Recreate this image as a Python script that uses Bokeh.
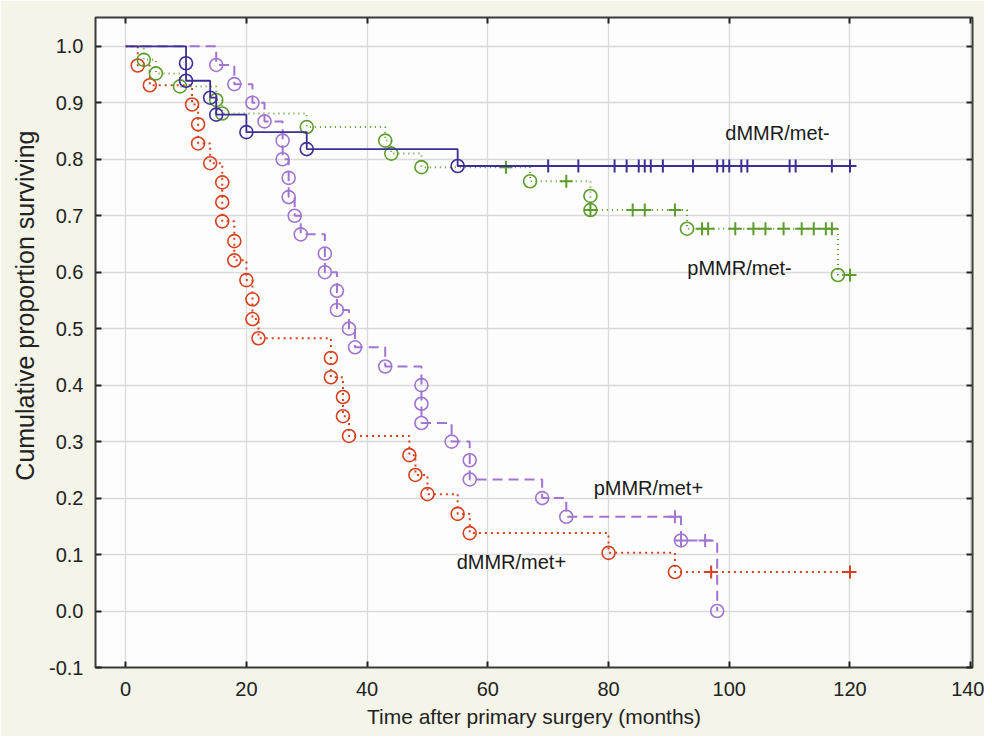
from bokeh.plotting import figure
from bokeh.models import Range1d, FixedTicker, LinearAxis, NumeralTickFormatter, CustomJSTickFormatter, Label, Title
from bokeh.embed import file_html
from bokeh.resources import INLINE

# ---------------- data ----------------
x_ticks = [0, 20, 40, 60, 80, 100, 120, 140]
y_ticks = [-0.1, 0.0, 0.1, 0.2, 0.3, 0.4, 0.5, 0.6, 0.7, 0.8, 0.9, 1.0]

# dMMR/met-
dneg_event_t = [10, 10, 14, 15, 20, 30, 55]
dneg_event_s = [0.970, 0.939, 0.909, 0.879, 0.848, 0.818, 0.788]
dneg_cens_t = [70, 75, 81, 83, 85, 86, 87, 89, 94, 98, 99, 100, 102, 103, 110, 111, 117, 120]
dneg_cens_s = [0.788] * 18

# pMMR/met-
pneg_event_t = [3, 5, 9, 15, 16, 30, 43, 44, 49, 67, 77, 77, 93, 118]
pneg_event_s = [0.976, 0.952, 0.929, 0.905, 0.881, 0.857, 0.833, 0.810, 0.786, 0.761, 0.735, 0.710, 0.677, 0.595]
pneg_cens_t = [63, 73, 77, 84, 86, 91, 95.5, 96.5, 101, 104, 106, 109, 112, 114, 116, 117, 120]
pneg_cens_s = [0.786, 0.761, 0.710, 0.710, 0.710, 0.710, 0.677, 0.677, 0.677, 0.677, 0.677,
               0.677, 0.677, 0.677, 0.677, 0.677, 0.595]

# pMMR/met+
ppos_event_t = [15, 18, 21, 23, 26, 26, 27, 27, 28, 29, 33, 33, 35, 35, 37, 38, 43, 49, 49, 49,
                54, 57, 57, 69, 73, 92, 98]
ppos_event_s = [0.967, 0.933, 0.900, 0.867, 0.833, 0.800, 0.767, 0.733, 0.700, 0.667, 0.633, 0.600,
                0.567, 0.533, 0.500, 0.467, 0.433, 0.400, 0.367, 0.333, 0.300, 0.267, 0.233, 0.200,
                0.167, 0.125, 0.0]
ppos_cens_t = [91, 92, 96]
ppos_cens_s = [0.167, 0.125, 0.125]

# dMMR/met+
dpos_event_t = [2, 4, 11, 12, 12, 14, 16, 16, 16, 18, 18, 20, 21, 21, 22, 34, 34, 36, 36, 37,
                47, 48, 50, 55, 57, 80, 91]
dpos_event_s = [0.966, 0.931, 0.897, 0.862, 0.828, 0.793, 0.759, 0.724, 0.690, 0.655, 0.621,
                0.586, 0.552, 0.517, 0.483, 0.448, 0.414, 0.379, 0.345, 0.310, 0.276, 0.241,
                0.207, 0.172, 0.138, 0.103, 0.069]
dpos_cens_t = [97, 120]
dpos_cens_s = [0.069, 0.069]

series_names = ["dMMR/met-", "pMMR/met-", "pMMR/met+", "dMMR/met+"]
label_x = [108, 101.7, 86.6, 63.9]
label_y = [0.846, 0.607, 0.218, 0.087]

y_title = "Cumulative proportion surviving"
x_title = "Time after primary surgery (months)"

# ---------------- figure ----------------
FONT = "Liberation Sans"
BG = "#f4f4e8"

p = figure(width=984, height=736, output_backend="svg", toolbar_location=None,
           x_range=Range1d(-5, 140.3), y_range=Range1d(-0.1, 1.051),
           min_border_left=95, min_border_right=12, min_border_top=17, min_border_bottom=69,
           x_axis_label=x_title)
p.background_fill_color = "#fdfdfd"
p.border_fill_color = BG
p.outline_line_color = "#3a3a3a"
p.outline_line_width = 2

for ax in (p.xaxis[0], p.yaxis[0]):
    ax.axis_line_color = None
    ax.major_tick_in = 6
    ax.major_tick_out = 0
    ax.minor_tick_line_color = None
    ax.major_tick_line_color = "#222222"
    ax.major_tick_line_width = 2
    ax.major_label_text_font = FONT
    ax.major_label_text_font_size = "20px"
    ax.major_label_text_color = "#222222"
    ax.axis_label_text_font = FONT
    ax.axis_label_text_font_style = "normal"
    ax.axis_label_text_color = "#222222"

p.xaxis[0].axis_label_text_font_size = "21px"
p.xaxis[0].ticker = FixedTicker(ticks=x_ticks)
p.yaxis[0].ticker = FixedTicker(ticks=y_ticks)
p.yaxis[0].formatter = NumeralTickFormatter(format="0.0")
p.xaxis[0].major_label_standoff = 14
p.yaxis[0].major_label_standoff = 12
p.xaxis[0].axis_label_standoff = 6

# y title as a side title so it can sit above the frame centre, like the reference
p.add_layout(Title(text=y_title, align="right", offset=113, standoff=16,
                   text_font=FONT, text_font_size="25px", text_font_style="normal",
                   text_color="#222222"), "left")

empty = CustomJSTickFormatter(code="return ''")
for side, tk in (("right", y_ticks), ("above", x_ticks)):
    a = LinearAxis(ticker=FixedTicker(ticks=tk), formatter=empty,
                   axis_line_color=None, major_tick_in=6, major_tick_out=0,
                   major_tick_line_color="#222222", major_tick_line_width=2,
                   minor_tick_line_color=None, major_label_standoff=0,
                   major_label_text_font_size="1px")
    p.add_layout(a, side)

p.grid.grid_line_color = "#d9d9d9"
p.grid.grid_line_width = 1.3
p.xgrid.ticker = FixedTicker(ticks=x_ticks)
p.ygrid.ticker = FixedTicker(ticks=y_ticks)

RED = "#d6401e"
PURPLE = "#a074d0"
GREEN = "#5c9c2c"
BLUE = "#3b2f96"


def km(ev_t, ev_s, end_t, end_s, color, dash, lw, cens_t, cens_s):
    xs = [0] + list(ev_t) + [end_t]
    ys = [1.0] + list(ev_s) + [end_s]
    p.step(xs, ys, mode="after", line_color=color, line_dash=dash, line_width=lw)
    p.scatter(ev_t, ev_s, marker="circle", size=13, fill_color=None,
              line_color=color, line_width=1.6)
    if cens_t:
        p.scatter(cens_t, cens_s, marker="cross", size=13, line_color=color, line_width=2)


km(dpos_event_t, dpos_event_s, dpos_cens_t[-1], dpos_cens_s[-1], RED, "2 4", 2, dpos_cens_t, dpos_cens_s)
km(ppos_event_t, ppos_event_s, ppos_event_t[-1], ppos_event_s[-1], PURPLE, "10 6", 2, ppos_cens_t, ppos_cens_s)
km(pneg_event_t, pneg_event_s, pneg_cens_t[-1], pneg_cens_s[-1], GREEN, "1 4", 2, pneg_cens_t, pneg_cens_s)
km(dneg_event_t, dneg_event_s, dneg_cens_t[-1], dneg_cens_s[-1], BLUE, "solid", 1.8, dneg_cens_t, dneg_cens_s)

for name, lx, ly in zip(series_names, label_x, label_y):
    p.add_layout(Label(x=lx, y=ly, text=name, text_align="center", text_baseline="middle",
                       text_font=FONT, text_font_size="20px", text_color="#1a1a1a"))

open("out.html", "w").write(file_html(p, INLINE))
